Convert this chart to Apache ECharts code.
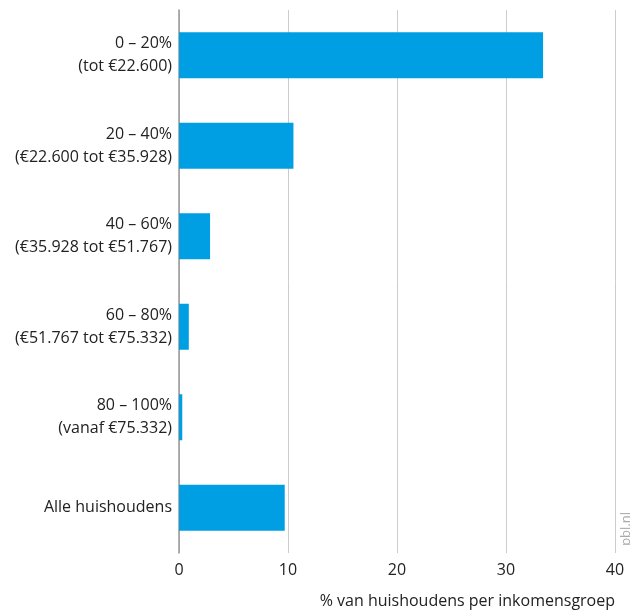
<!DOCTYPE html>
<html><head><meta charset="utf-8">
<script src="https://cdn.jsdelivr.net/npm/echarts@6/dist/echarts.min.js"></script>
<style>html,body{margin:0;padding:0;background:#fff}#c{width:630px;height:614px}</style>
</head><body><div id="c"></div>
<script>
const categories = ["0 – 20%\n(tot €22.600)", "20 – 40%\n(€22.600 tot €35.928)", "40 – 60%\n(€35.928 tot €51.767)", "60 – 80%\n(€51.767 tot €75.332)", "80 – 100%\n(vanaf €75.332)", "Alle huishoudens"];
const values = [33.4, 10.5, 2.85, 0.9, 0.3, 9.7];
const xTicks = [0, 10, 20, 30, 40];
const axisTitle = "% van huishoudens per inkomensgroep";
const font = "'Open Sans', sans-serif";
const chart = echarts.init(document.getElementById('c'));
chart.setOption({
  animation: false,
  grid: {left: 179, right: 15, top: 10, bottom: 61, containLabel: false},
  xAxis: {
    type: 'value', min: 0, max: 40, interval: 10,
    axisLine: {show: false}, axisTick: {show: false},
    splitLine: {show: true, lineStyle: {color: '#cccccc', width: 1}},
    axisLabel: {color: '#222', fontSize: 16, fontFamily: font, margin: 9,
      formatter: v => xTicks.includes(v) ? String(v) : ''},
    name: axisTitle, nameLocation: 'end', nameGap: 0,
    nameTextStyle: {color: '#222', fontSize: 16, fontFamily: font, align: 'right', verticalAlign: 'top', padding: [40, 0, 0, 0]}
  },
  yAxis: {
    type: 'category', data: categories, inverse: true,
    axisLine: {show: true, lineStyle: {color: '#999', width: 1.5}},
    axisTick: {show: false},
    axisLabel: {color: '#222', fontSize: 16, fontFamily: font, margin: 7, lineHeight: 23, align: 'right'}
  },
  series: [{
    type: 'bar', data: values, barWidth: 46,
    itemStyle: {color: '#009fe3'}
  }],
  graphic: [{
    type: 'text', left: 620, top: 512, rotation: Math.PI / 2,
    style: {text: 'pbl.nl', fill: '#aaa', fontSize: 13, fontFamily: font}
  }]
});
</script></body></html>
